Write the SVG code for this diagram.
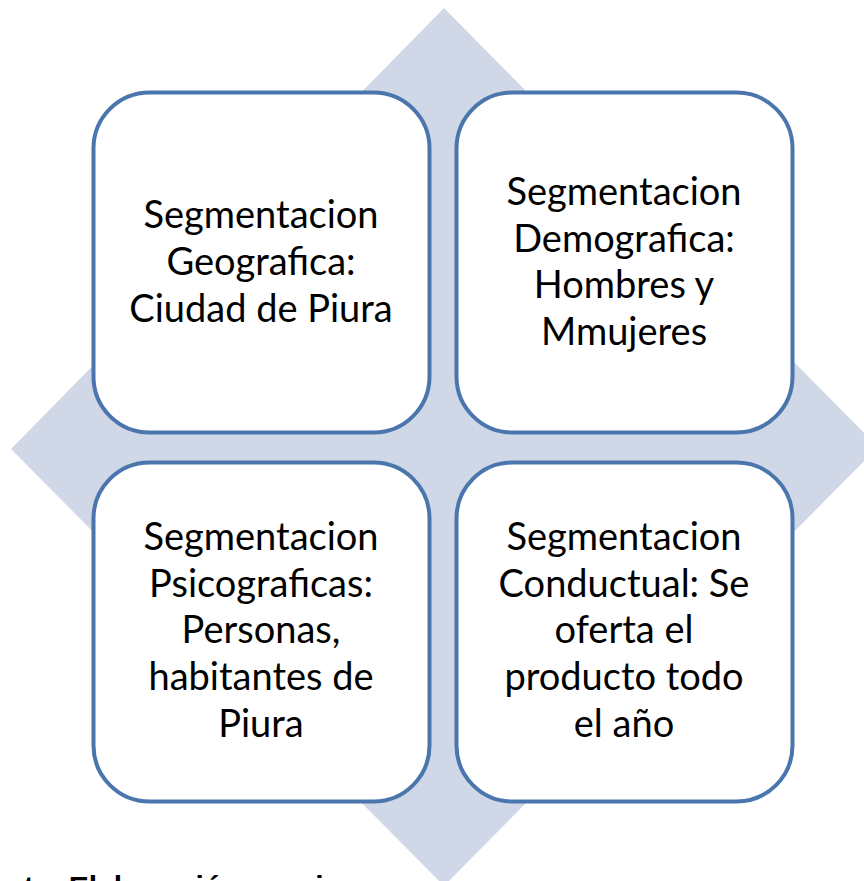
<svg xmlns="http://www.w3.org/2000/svg" width="864" height="881" viewBox="0 0 864 881">
  <style>
    .box { fill: #ffffff; stroke: #4a76ad; stroke-width: 4; }
    .lbl { font-family: Lato, "Open Sans", sans-serif; font-size: 38px; fill: #000000; text-anchor: middle; }
    .cap { font-family: "Liberation Sans", Arial, sans-serif; font-size: 30px; font-weight: bold; fill: #000000; }
  </style>
  <rect x="0" y="0" width="864" height="881" fill="#ffffff"/>
  <g id="background">
    <polygon points="444,8 878,447 444,886 11,449" fill="#d0d8e8"/>
  </g>
  <g id="connectors"></g>
  <g id="node-geografica">
    <rect class="box" x="93.5" y="92.5" width="336" height="340" rx="56" ry="56"/>
    <text class="lbl"><tspan x="261" y="228">Segmentacion</tspan><tspan x="261" y="275">Geografica:</tspan><tspan x="261" y="322">Ciudad de Piura</tspan></text>
  </g>
  <g id="node-demografica">
    <rect class="box" x="456.5" y="92.5" width="336" height="340" rx="56" ry="56"/>
    <text class="lbl"><tspan x="624" y="205">Segmentacion</tspan><tspan x="624" y="252">Demografica:</tspan><tspan x="624" y="298">Hombres y</tspan><tspan x="624" y="345">Mmujeres</tspan></text>
  </g>
  <g id="node-psicograficas">
    <rect class="box" x="93.5" y="462.5" width="336" height="339" rx="56" ry="56"/>
    <text class="lbl"><tspan x="261" y="550">Segmentacion</tspan><tspan x="261" y="597">Psicograficas:</tspan><tspan x="261" y="643">Personas,</tspan><tspan x="261" y="690">habitantes de</tspan><tspan x="261" y="737">Piura</tspan></text>
  </g>
  <g id="node-conductual">
    <rect class="box" x="456.5" y="462.5" width="336" height="339" rx="56" ry="56"/>
    <text class="lbl"><tspan x="624" y="550">Segmentacion</tspan><tspan x="624" y="597">Conductual: Se</tspan><tspan x="624" y="643">oferta el</tspan><tspan x="624" y="690">producto todo</tspan><tspan x="624" y="737">el año</tspan></text>
  </g>
  <text class="cap" x="-48" y="897">Fuente: Elaboración propia</text>
</svg>
